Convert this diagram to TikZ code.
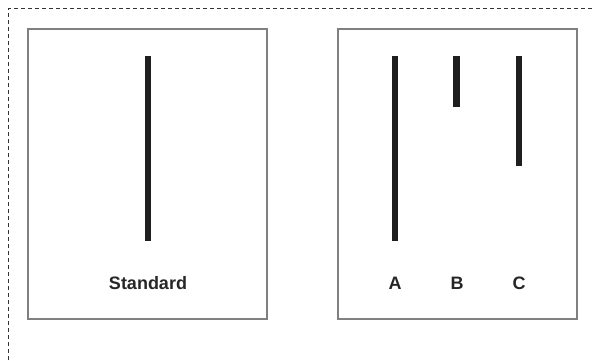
\documentclass[tikz,border=0pt]{standalone}
\usepackage{fontspec}
\setmainfont{Liberation Sans}
\begin{document}
\begin{tikzpicture}[x=1pt,y=-1pt,
  panel/.style={draw=black!50,line width=1.3pt},
  linebar/.style={fill=black!88,draw=none},
  lbl/.style={font=\fontsize{18}{21}\selectfont\bfseries,text=black!85,inner sep=0pt,anchor=base}]
  \useasboundingbox (0,0) rectangle (592,360);
  % frame: dashed top and left edges
  \draw[black!80,line width=0.8pt,dash pattern=on 4pt off 3pt] (8.5,360) -- (8.5,8.5) -- (592,8.5);
  % the two panels
  \draw[panel] (28,29) rectangle (267,319);
  \draw[panel] (338,29) rectangle (577,319);
  % reference line
  \fill[linebar] (145,56) rectangle (151,241);
  \node[lbl] (std) at (148,289) {Standard};
  % comparison lines
  \fill[linebar] (392,56) rectangle (398,241);
  \fill[linebar] (453,56) rectangle (459.5,107);
  \fill[linebar] (516,56) rectangle (522,166);
  \node[lbl] (a) at (395,289) {A};
  \node[lbl] (b) at (457,289) {B};
  \node[lbl] (c) at (519,289) {C};
\end{tikzpicture}
\end{document}
